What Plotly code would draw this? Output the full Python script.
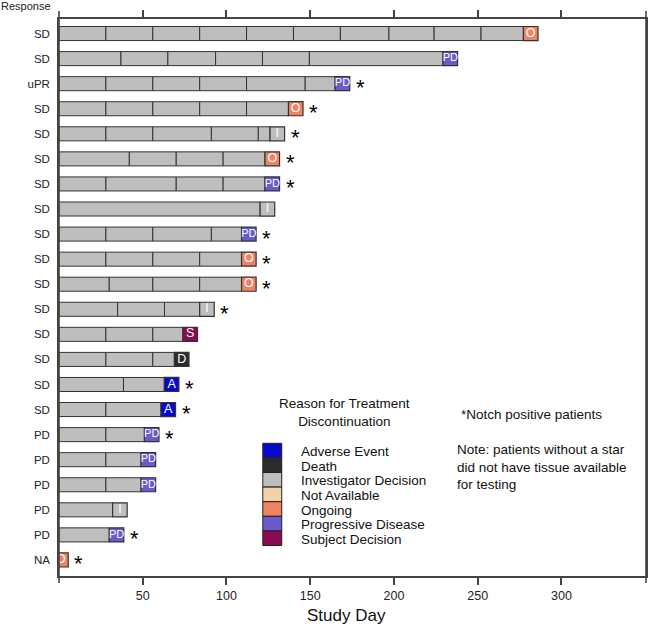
import plotly.graph_objects as go

# ---------------- data (top row first) ----------------
responses = ["SD", "SD", "uPR", "SD", "SD", "SD", "SD", "SD", "SD", "SD", "SD",
             "SD", "SD", "SD", "SD", "SD", "PD", "PD", "PD", "PD", "PD", "NA"]
end_days = [286, 238, 173.6, 145.7, 134.7, 131.7, 131.7, 128.8, 117.7, 117.7, 117.7,
            92.7, 82.7, 77.6, 71.6, 69.6, 59.7, 57.7, 57.7, 40.7, 38.7, 5.5]
cycle_days = [
    [28, 56, 84, 112, 140, 168, 197, 224, 252],
    [37, 65, 93.5, 121.5, 149.5],
    [28, 56, 84, 112, 147],
    [28, 56, 84, 112],
    [28, 56, 91, 119],
    [42, 70, 98],
    [28, 70, 98],
    [],
    [28, 56, 91],
    [28, 56, 84],
    [30, 56, 84],
    [35, 63],
    [28, 56],
    [28, 56],
    [38.5],
    [28],
    [28],
    [28],
    [28],
    [],
    [],
    [],
]
reasons = ["O", "PD", "PD", "O", "I", "O", "PD", "I", "PD", "O", "O",
           "I", "S", "D", "A", "A", "PD", "PD", "PD", "I", "PD", "O"]
notch = [0, 0, 1, 1, 1, 1, 1, 0, 1, 1, 1, 1, 0, 0, 1, 1, 1, 0, 0, 0, 1, 1]

legend_codes = ["A", "D", "I", "NA", "O", "PD", "S"]
legend_labels = ["Adverse Event", "Death", "Investigator Decision", "Not Available",
                 "Ongoing", "Progressive Disease", "Subject Decision"]
x_ticks = [50, 100, 150, 200, 250, 300]

# ---------------- styles ----------------
reason_colors = {"A": "#0808CC", "D": "#2B2B2B", "I": "#BEBEBE", "NA": "#F3D3A3",
                 "O": "#EE8262", "PD": "#6A5ACD", "S": "#8B0A50"}
BOX_DAYS = 8.7
BAR_W = 0.56
EDGE = "#333333"
AXIS = "#444444"
FONT = "Liberation Sans, Arial, sans-serif"
W, H = 650, 628
L, R, T, B = 59, 2, 19, 52
PW, PH = W - L - R, H - T - B


def px_x(px):
    return (px - L) / PW


def px_y(py):
    return (H - B - py) / PH


n = len(responses)
rows = list(range(n))

# grey cycle segments
seg_base, seg_len, seg_y = [], [], []
for i in rows:
    bounds = [0] + cycle_days[i] + [end_days[i] - BOX_DAYS]
    for a, b in zip(bounds[:-1], bounds[1:]):
        if b - a > 0:
            seg_base.append(a)
            seg_len.append(b - a)
            seg_y.append(i)

fig = go.Figure()
fig.add_trace(go.Bar(
    orientation="h", y=seg_y, x=seg_len, base=seg_base, width=BAR_W,
    marker=dict(color=reason_colors["I"], line=dict(color=EDGE, width=1)),
    hoverinfo="skip"))

# end-of-treatment boxes
fig.add_trace(go.Bar(
    orientation="h", y=rows, x=[BOX_DAYS] * n,
    base=[e - BOX_DAYS for e in end_days], width=BAR_W,
    marker=dict(color=[reason_colors[r] for r in reasons], line=dict(color=EDGE, width=1.2)),
    hoverinfo="skip"))

# letters inside boxes
fig.add_trace(go.Scatter(
    x=[e - BOX_DAYS / 2 for e in end_days], y=rows, mode="text",
    text=reasons, textposition="middle center",
    textfont=dict(family=FONT, size=[11 if len(r) > 1 else 12.5 for r in reasons], color="white"),
    cliponaxis=True, hoverinfo="skip"))

annotations = []
# stars for notch positive
for i in rows:
    if notch[i]:
        annotations.append(dict(x=end_days[i], y=i, xref="x", yref="y", text="*",
                                showarrow=False, xanchor="left", yanchor="middle",
                                xshift=4, yshift=-4,
                                font=dict(family=FONT, size=22, color="black")))

annotations.append(dict(x=px_x(53), y=px_y(6), xref="paper", yref="paper", text="Response",
                        showarrow=False, xanchor="right", yanchor="middle",
                        font=dict(family=FONT, size=11, color="#222")))
annotations.append(dict(x=px_x(347), y=px_y(615), xref="paper", yref="paper", text="Study Day",
                        showarrow=False, xanchor="center", yanchor="middle",
                        font=dict(family=FONT, size=17, color="#111")))
annotations.append(dict(x=px_x(345), y=px_y(412), xref="paper", yref="paper",
                        text="Reason for Treatment<br>Discontinuation",
                        showarrow=False, xanchor="center", yanchor="middle",
                        font=dict(family=FONT, size=13.5, color="#111")))
annotations.append(dict(x=px_x(460), y=px_y(414), xref="paper", yref="paper",
                        text="*Notch positive patients",
                        showarrow=False, xanchor="left", yanchor="middle",
                        font=dict(family=FONT, size=13.5, color="#111")))
annotations.append(dict(x=px_x(456), y=px_y(467), xref="paper", yref="paper",
                        text="Note: patients without a star<br>did not have tissue available<br>for testing",
                        showarrow=False, xanchor="left", yanchor="middle", align="left",
                        font=dict(family=FONT, size=13.5, color="#111")))

shapes = []
SW_TOP, SW_H = 443.3, 14.6
for k, (code, lab) in enumerate(zip(legend_codes, legend_labels)):
    y0 = SW_TOP + k * SW_H
    shapes.append(dict(type="rect", xref="paper", yref="paper",
                       x0=px_x(263.5), x1=px_x(282.5), y0=px_y(y0 + SW_H), y1=px_y(y0),
                       fillcolor=reason_colors[code], line=dict(color="#222", width=1)))
    annotations.append(dict(x=px_x(300), y=px_y(y0 + SW_H / 2 + 1), xref="paper", yref="paper",
                            text=lab, showarrow=False, xanchor="left", yanchor="middle",
                            font=dict(family=FONT, size=13.5, color="#111")))

# frame's vertical lines run a little past the top and bottom axes
for xp in (0, 1):
    shapes.append(dict(type="line", xref="paper", yref="paper", x0=xp, x1=xp,
                       y0=px_y(583), y1=px_y(11), line=dict(color=AXIS, width=1.6)))

fig.update_layout(
    width=W, height=H, margin=dict(l=L, r=R, t=T, b=B),
    plot_bgcolor="white", paper_bgcolor="white",
    barmode="overlay", showlegend=False,
    annotations=annotations, shapes=shapes,
    xaxis=dict(range=[0, 350.5], tickvals=x_ticks, ticks="outside", ticklen=7,
               tickcolor=AXIS, tickwidth=1.5, showline=True, linecolor=AXIS,
               linewidth=1.6, mirror="ticks", showgrid=False, zeroline=False,
               tickfont=dict(family=FONT, size=12.5, color="#222")),
    yaxis=dict(range=[n - 0.36, -0.58], tickvals=rows, ticktext=responses,
               ticks="", showline=True, linecolor=AXIS, linewidth=1.6, mirror=True,
               showgrid=False, zeroline=False, ticklabelstandoff=5,
               tickfont=dict(family=FONT, size=11.5, color="#222")),
)

fig.write_html("out.html", config={"displayModeBar": False},
               post_script="document.body.style.margin='0';document.body.style.overflow='hidden';")
